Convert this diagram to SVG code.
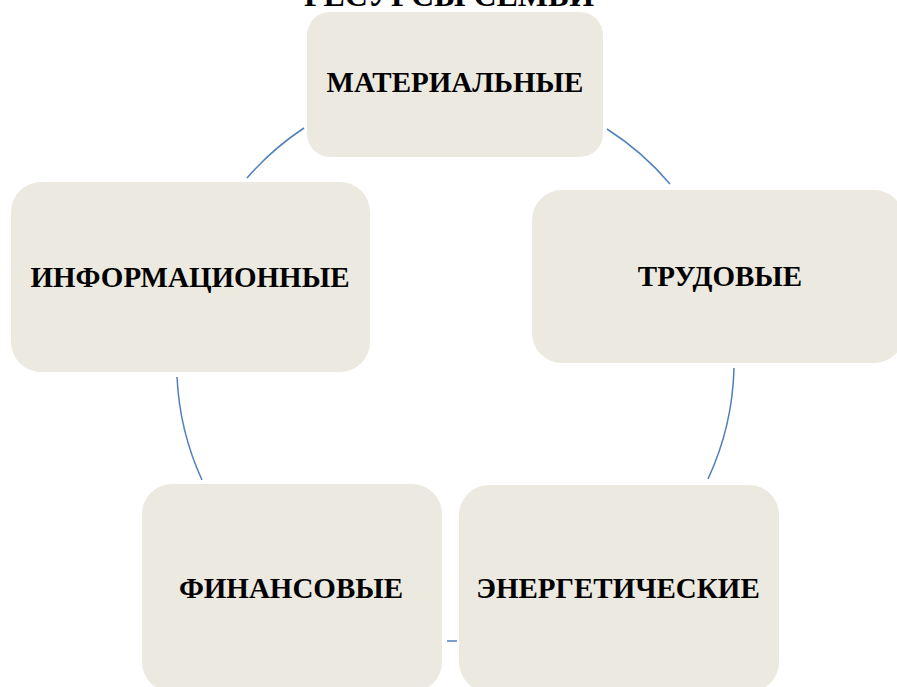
<svg xmlns="http://www.w3.org/2000/svg" width="897" height="687" viewBox="0 0 897 687">
<style>
.box{fill:#ECEAE0;}
.lbl{font-family:"Liberation Serif","Times New Roman",serif;font-weight:bold;font-size:29px;fill:#000;text-anchor:middle;}
.ttl{font-size:32px;}
.arc{fill:none;stroke:#4F81BD;stroke-width:1.5;}
</style>
<rect width="897" height="687" fill="#fff"/>
<text class="lbl ttl" x="449" y="6">РЕСУРСЫ СЕМЬИ</text>
<g id="connectors">
<path class="arc" d="M247,178 A279,279 0 0 1 304,128"/>
<path class="arc" d="M607,129 A279,279 0 0 1 670,184"/>
<path class="arc" d="M734,368 A279,279 0 0 1 708,479"/>
<path class="arc" d="M457,641 A279,279 0 0 1 447,641"/>
<path class="arc" d="M202,480 A279,279 0 0 1 177,377"/>
</g>
<g id="materialnye">
<rect class="box" x="307" y="12" width="296" height="145" rx="23"/>
<text class="lbl" x="455" y="92">МАТЕРИАЛЬНЫЕ</text>
</g>
<g id="trudovye">
<rect class="box" x="532" y="190" width="372" height="173" rx="30"/>
<text class="lbl" x="720" y="286">ТРУДОВЫЕ</text>
</g>
<g id="energeticheskie">
<rect class="box" x="459" y="485" width="320" height="207" rx="30"/>
<text class="lbl" x="618" y="598">ЭНЕРГЕТИЧЕСКИЕ</text>
</g>
<g id="finansovye">
<rect class="box" x="142" y="484" width="300" height="208" rx="30"/>
<text class="lbl" x="291" y="598">ФИНАНСОВЫЕ</text>
</g>
<g id="informatsionnye">
<rect class="box" x="11" y="182" width="359" height="190" rx="30"/>
<text class="lbl" x="190" y="287">ИНФОРМАЦИОННЫЕ</text>
</g>
</svg>
